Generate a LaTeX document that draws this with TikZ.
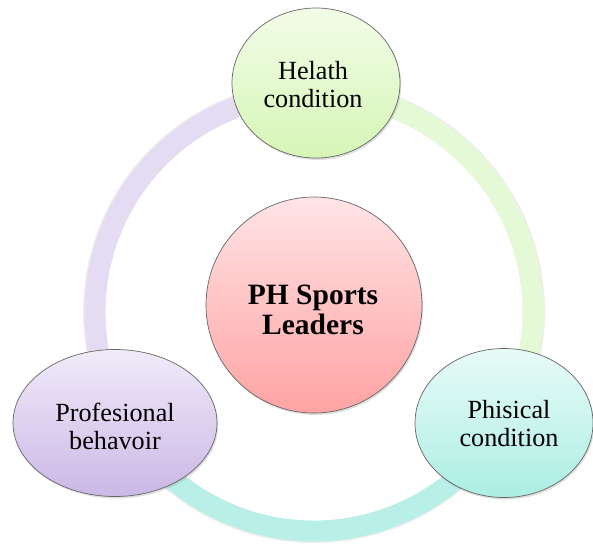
\documentclass[tikz,border=0pt]{standalone}
\usepackage{fontspec}
\setmainfont{Liberation Serif}
\usetikzlibrary{shapes.geometric,shadows,calc}

\definecolor{outline}{HTML}{666666}
\definecolor{ringLav}{HTML}{E4DCF2}
\definecolor{ringGreen}{HTML}{E6F9D6}
\definecolor{ringTeal}{HTML}{B8F0E7}

\tikzset{
  band/.style={line width=21pt},
  bandshadow/.style={line width=22pt, black, opacity=0.07},
  bubble/.style={ellipse, draw=outline, line width=0.7pt, inner sep=0pt,
    drop shadow={shadow xshift=1.2pt, shadow yshift=-2pt, opacity=0.25}},
  lbl/.style={align=center, font=\fontsize{26.2}{28}\selectfont},
  hub/.style={align=center, font=\fontsize{29.5}{30}\selectfont\bfseries},
}

\begin{document}
\begin{tikzpicture}[x=1pt, y=-1pt]
  \useasboundingbox (0,0) rectangle (593,547);
  \fill[white] (0,0) rectangle (593,547);

  % centre of the surrounding ring
  \coordinate (ring) at (314,312);

  % ring segments, each with a faint shadow beneath
  \draw[bandshadow] ($(ring)+(151:220)$) arc[start angle=151, end angle=270, radius=220];
  \draw[bandshadow] ($(ring)+(-90:220)$) arc[start angle=-90, end angle=30, radius=220];
  \draw[bandshadow] ($(ring)+(30:220)$) arc[start angle=30, end angle=151, radius=220];
  \draw[band, ringLav] ($(ring)+(151:219)$) arc[start angle=151, end angle=270, radius=219];
  \draw[band, ringGreen] ($(ring)+(-90:219)$) arc[start angle=-90, end angle=30, radius=219];
  \draw[band, ringTeal] ($(ring)+(30:219)$) arc[start angle=30, end angle=151, radius=219];

  % central hub
  \node[bubble, circle, minimum size=216pt, top color={rgb,255:red,255;green,228;blue,230},
        bottom color={rgb,255:red,255;green,163;blue,163}] (hub) at (314,305) {};
  \node[hub] (hubtext) at (313,310) {PH Sports\\Leaders};

  % outer bubbles
  \node[bubble, minimum width=168pt, minimum height=150pt,
        top color={rgb,255:red,242;green,252;blue,232},
        bottom color={rgb,255:red,214;green,246;blue,182}] (health) at (316,83) {};
  \node[lbl] (healthtext) at (313,85) {Helath\\condition};

  \node[bubble, minimum width=204pt, minimum height=147pt,
        top color={rgb,255:red,240;green,235;blue,249},
        bottom color={rgb,255:red,203;green,184;blue,230}] (behav) at (115,423) {};
  \node[lbl] (behavtext) at (115,426) {Profesional\\behavoir};

  \node[bubble, minimum width=178pt, minimum height=149pt,
        top color={rgb,255:red,232;green,251;blue,248},
        bottom color={rgb,255:red,172;green,238;blue,226}] (phys) at (504,423) {};
  \node[lbl] (phystext) at (509,424) {Phisical\\condition};
\end{tikzpicture}
\end{document}
